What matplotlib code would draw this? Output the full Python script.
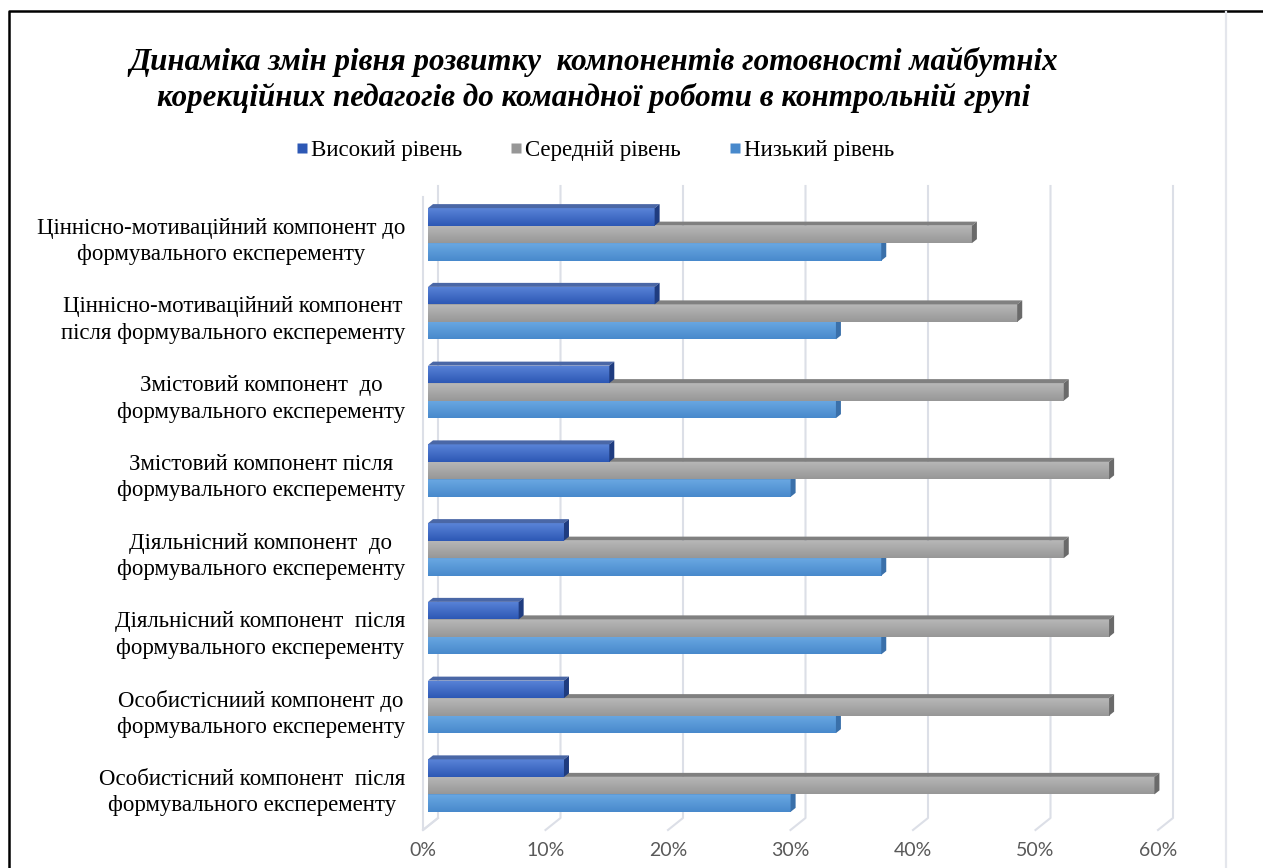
import numpy as np
from matplotlib import pyplot as plt
from matplotlib.lines import Line2D
from matplotlib.patches import Polygon
from matplotlib.colors import LinearSegmentedColormap

# Categories, top to bottom
categories = [
    "Ціннісно-мотиваційний компонент до\nформувального експеременту",
    "Ціннісно-мотиваційний компонент\nпісля формувального експеременту",
    "Змістовий компонент  до\nформувального експеременту",
    "Змістовий компонент після\nформувального експеременту",
    "Діяльнісний компонент  до\nформувального експеременту",
    "Діяльнісний компонент  після\nформувального експеременту",
    "Особистісниий компонент до\nформувального експеременту",
    "Особистісний компонент  після\nформувального експеременту",
]
series_names = ["Високий рівень", "Середній рівень", "Низький рівень"]
high = [18.5, 18.5, 14.8, 14.8, 11.1, 7.4, 11.1, 11.1]
medium = [44.4, 48.1, 51.9, 55.6, 51.9, 55.6, 55.6, 59.3]
low = [37.0, 33.3, 33.3, 29.6, 37.0, 37.0, 33.3, 29.6]
x_ticks = [0, 10, 20, 30, 40, 50, 60]
x_labels = ["0%", "10%", "20%", "30%", "40%", "50%", "60%"]

# front gradient / top face / side face colours per series
styles = [
    dict(top="#5A84D8", bottom="#2D58B5", lid="#4A67A6", side="#1F3C80"),
    dict(top="#B8B8B8", bottom="#979797", lid="#808080", side="#6A6A6A"),
    dict(top="#6AA8E2", bottom="#4889CC", lid="#5186BE", side="#3A70AA"),
]

W, H = 1263, 868
fig = plt.figure(figsize=(W / 100, H / 100), dpi=100)
# plot box in pixels: left, top, right, bottom
L, T, R, B = 428, 195, 1163, 825
ax = fig.add_axes([L / W, (H - B) / H, (R - L) / W, (B - T) / H])
ax.axis("off")

sx = (R - L) / 60.0             # px per percent
sy = (B - T) / len(categories)  # px per row

bar_h = 17.5 / sy
ddx, ddy = 5 / sx, 4 / sy     # 3D depth of a bar

# Grid on the back wall, with the floor edge drawn towards the front
grid_c = "#DCDFE7"
back_dx, front_dx = 10 / sx, -5 / sx
wall_top = (186 - T) / sy - 0.5
wall_bot = (818 - T) / sy - 0.5
floor_front = (830 - T) / sy - 0.5
for v in x_ticks:
    ax.plot([v + back_dx, v + back_dx, v + front_dx],
            [wall_top, wall_bot, floor_front],
            color=grid_c, lw=1.5, clip_on=False, zorder=0)
ax.plot([front_dx, front_dx, back_dx],
        [(197 - T) / sy - 0.5, floor_front, wall_bot],
        color=grid_c, lw=1.5, clip_on=False, zorder=0)

y = np.arange(len(categories))
grad = np.linspace(0, 1, 64).reshape(-1, 1)
order = [(2, low, bar_h), (1, medium, 0.0), (0, high, -bar_h)]
for k, (si, vals, off) in enumerate(order):
    st = styles[si]
    cmap = LinearSegmentedColormap.from_list("g%d" % si, [st["top"], st["bottom"]])
    z = 2 + k
    bars = ax.barh(y + off, vals, height=bar_h, color=st["bottom"],
                   edgecolor="none", zorder=z)
    for yi, v, b in zip(y + off, vals, bars):
        top_y = yi - bar_h / 2
        bot_y = yi + bar_h / 2
        im = ax.imshow(grad, cmap=cmap, aspect="auto",
                       extent=(0, v, bot_y, top_y), zorder=z)
        im.set_clip_path(b)
        ax.add_patch(Polygon([(0, top_y), (v, top_y), (v + ddx, top_y - ddy),
                              (ddx, top_y - ddy)],
                             closed=True, fc=st["lid"], ec="none", zorder=z))
        ax.add_patch(Polygon([(v, top_y), (v + ddx, top_y - ddy),
                              (v + ddx, bot_y - ddy), (v, bot_y)],
                             closed=True, fc=st["side"], ec="none", zorder=z))
ax.set_xlim(0, 60)
ax.set_ylim(len(categories) - 0.5, -0.5)

# Category labels
serif = "Liberation Serif"
for yi, lab in zip(y, categories):
    ax.text(-23 / sx, yi + 7 / sy, lab, ha="right", va="center",
            multialignment="center", fontsize=16.5, family=serif,
            linespacing=1.33, color="black")

# x tick labels under the front edge of the floor
for v, lab in zip(x_ticks, x_labels):
    ax.text(v + front_dx, (850 - T) / sy - 0.5, lab, ha="center", va="center",
            fontsize=14, family="Lato", color="#595959")

# Legend
handles = [Line2D([], [], ls="none", marker="s", markersize=7.5,
                  markerfacecolor=styles[i]["bottom"], markeredgecolor="none")
           for i in range(3)]
fig.legend(handles, series_names, loc="center", bbox_to_anchor=(594 / W, 1 - 150 / H),
           ncol=3, frameon=False, prop={"family": serif, "size": 16.5},
           handletextpad=0.05, columnspacing=2.0, handlelength=0.7)

# Title
fig.text(594 / W, 1 - 80 / H,
         "Динаміка змін рівня розвитку  компонентів готовності майбутніх\n"
         "корекційних педагогів до командної роботи в контрольній групі",
         ha="center", va="center", fontsize=22.3, family=serif,
         fontweight="bold", style="italic", linespacing=1.24)

# Frame of the chart area
fig.add_artist(Line2D([8.5 / W, 8.5 / W, 1.0], [0, 1 - 11 / H, 1 - 11 / H],
                      color="black", lw=1.8))
fig.add_artist(Line2D([1226 / W, 1226 / W], [0, 1 - 12 / H],
                      color="#E4E6EC", lw=1.6))

fig.savefig("out.png", dpi=100)
